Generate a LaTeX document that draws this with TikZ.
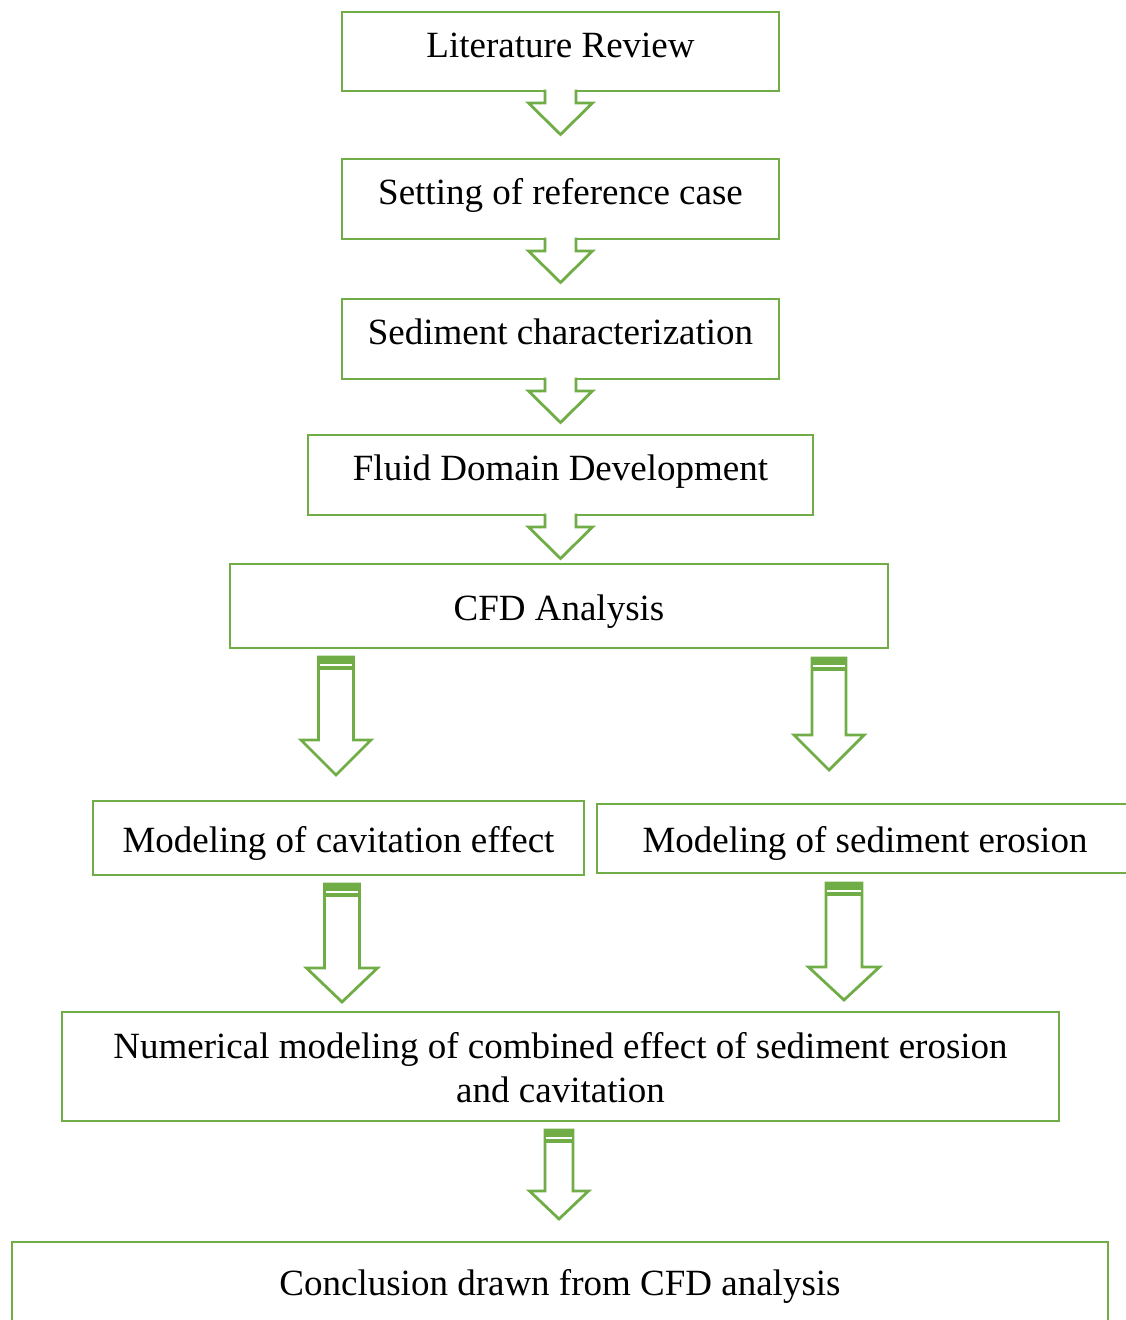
\documentclass[tikz,border=0pt]{standalone}
\usepackage{fontspec}
\setmainfont{Liberation Serif}
\definecolor{stepgreen}{RGB}{112,173,71}
\tikzset{
	flowbox/.style={draw=stepgreen, line width=2.8pt, inner xsep=0pt, inner ysep=0pt, outer sep=0pt, font=\fontsize{37}{44}\selectfont},
	arrowline/.style={draw=stepgreen, line width=2.8pt, fill=white, line join=miter},
}
\begin{document}
\begin{tikzpicture}[x=1pt, y=-1pt]
			\clip (0,0) rectangle (1126,1320);
			% boxes
			\node[flowbox, minimum width=437pt, minimum height=79pt, text height=45pt, text depth=34pt] (lit) at (560.5,51.5) {Literature Review};
			\node[flowbox, minimum width=437pt, minimum height=80pt, text height=45pt, text depth=35pt] (ref) at (560.5,199) {Setting of reference case};
			\node[flowbox, minimum width=437pt, minimum height=80pt, text height=45pt, text depth=35pt] (sed) at (560.5,339) {Sediment characterization};
			\node[flowbox, minimum width=505pt, minimum height=80pt, text height=45pt, text depth=35pt] (fluid) at (560.5,475) {Fluid Domain Development};
			\node[flowbox, minimum width=658pt, minimum height=84pt, text height=56pt, text depth=28pt] (cfd) at (559,606) {CFD Analysis};
			\node[flowbox, minimum width=491pt, minimum height=74pt, text height=51pt, text depth=23pt] (cav) at (338.5,838) {Modeling of cavitation effect};
			\node[flowbox, minimum width=536pt, minimum height=69pt, text height=48pt, text depth=21pt] (ero) at (865,838.5) {Modeling of sediment erosion};
			\node[flowbox, align=center, minimum width=997pt, minimum height=109pt, text height=90pt, text depth=19pt] (num) at (560.5,1066.5) {Numerical modeling of combined effect of sediment erosion\\and cavitation};
			\node[flowbox, minimum width=1096pt, minimum height=88pt, text height=53pt, text depth=35pt] (conc) at (560,1286) {Conclusion drawn from CFD analysis};
			% notched arrows
			\foreach \src in {lit,ref,sed,fluid}{
			\begin{scope}[shift={(\src.south)}]
			\draw[arrowline] (-15.5,-1.4) -- (-15.5,12) -- (-32,12) -- (0,43.5) -- (32,12) -- (15.5,12) -- (15.5,-1.4);
			\end{scope}
			}
			% block arrows
			\foreach \src/\cx/\gap/\sw/\hy/\hw/\tip in {
				cfd/336/9/17.5/83/35/118,
				cfd/829/10/17/77/35/112,
				cav/342/9/17.5/84/35.5/118,
				ero/844/10/18/84/35.5/117,
				num/559/9/14/61/29.5/89
			}{
			\begin{scope}[shift={(\cx,0 |- \src.south)}, shift={(0,\gap)}]
			\draw[arrowline] (-\sw,0) -- (-\sw,\hy) -- (-\hw,\hy) -- (0,\tip) -- (\hw,\hy) -- (\sw,\hy) -- (\sw,0) -- cycle;
			\fill[stepgreen] (-\sw-1.4,-1.4) rectangle (\sw+1.4,13);
			\draw[white, line width=2pt] (-\sw+1.4,7.5) -- (\sw-1.4,7.5);
			\end{scope}
			}
\end{tikzpicture}
\end{document}
